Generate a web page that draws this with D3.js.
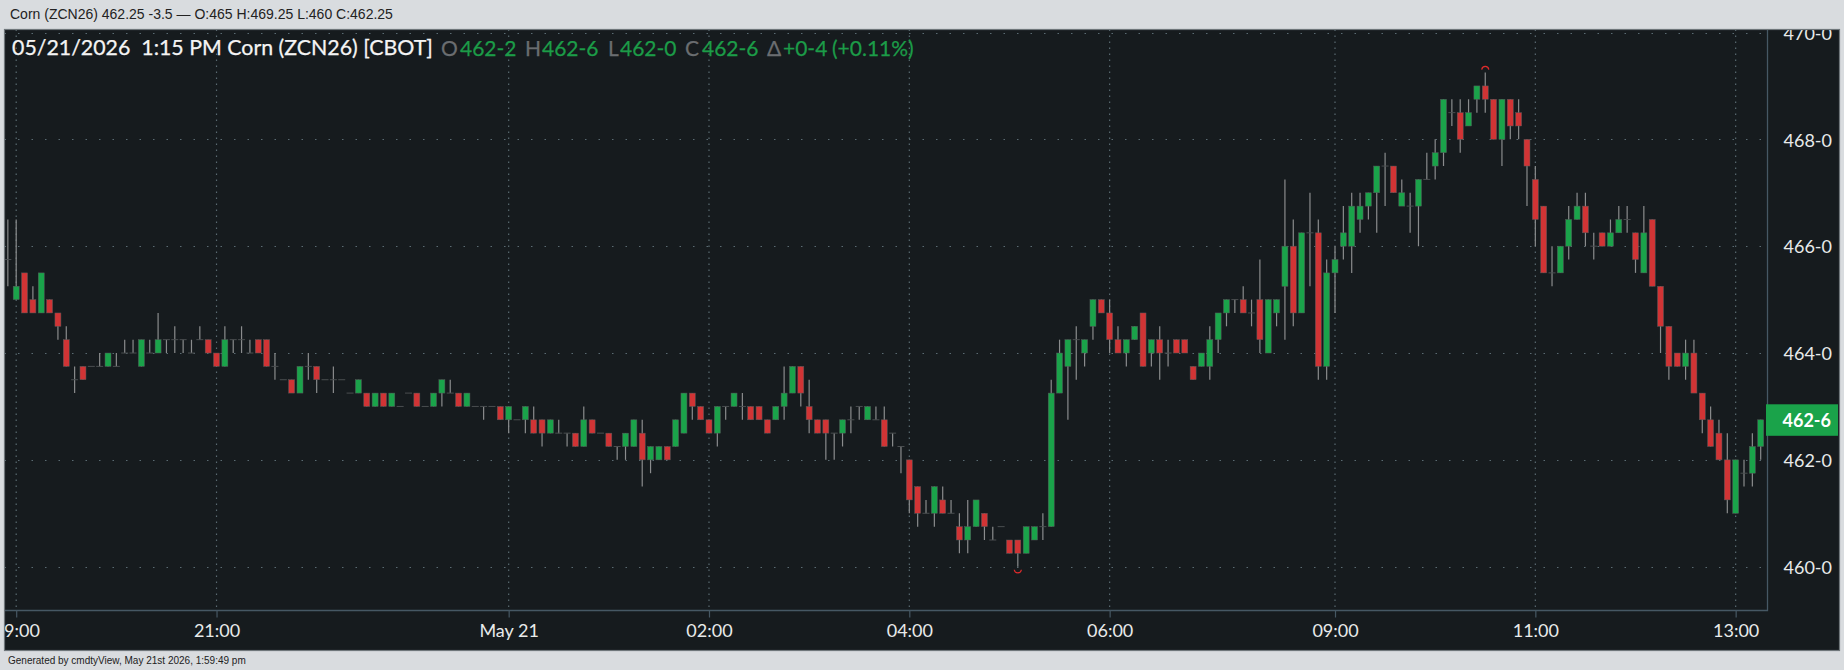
<!DOCTYPE html>
<html>
<head>
<meta charset="utf-8">
<title>Corn (ZCN26)</title>
<script src="https://cdn.jsdelivr.net/npm/d3@7"></script>
<style>
  html, body { margin: 0; padding: 0; background: #d9dcdf; overflow: hidden; }
  svg { display: block; }
</style>
</head>
<body>
<svg id="chart" width="1844" height="670"></svg>
<script>
// 5 minute bars, 18:55 to 13:15
const opens = [
  465.75,465,465.5,465,464.75,465,464.75,464.25,463.5,463.75,
  463.75,463.75,463.75,463.75,464,464,463.75,464,464,464.25,
  464.25,464.25,464,464.25,464.25,464,463.75,464.25,464.25,464,
  464.25,464.25,463.75,463.5,463.5,463.25,463.75,463.75,463.5,463.5,
  463.5,463.25,463.25,463.25,463,463.25,463,463,463.25,463.25,
  463,463,463.25,463.25,463.25,463,463,463,463,463,
  462.75,462.75,462.75,462.75,462.75,462.5,462.5,462.5,462.5,462.25,
  462.75,462.5,462.5,462.25,462.25,462.25,462.5,462,462,462.25,
  462.25,462.5,463.25,463,462.75,462.5,463,463,463,463,
  463,462.75,462.75,463,463.25,463.75,463,462.75,462.75,462.5,
  462.5,462.75,463,462.75,462.75,462.75,462.5,462.25,462,461.5,
  461,461,461.25,461,460.75,460.5,460.75,461,460.5,460.75,
  460.5,460.5,460.25,460.5,460.75,460.75,463.25,463.75,464.25,464,
  464.5,465,464.75,464.25,464,464.25,464.75,464,464.25,464,
  464.25,464.25,463.75,463.75,463.75,464.25,464.75,465,465,464.75,
  465,464,464.75,465.25,466,464.75,466.25,466.25,463.75,465.5,
  466,466,466.5,466.75,467,467.5,467.5,466.75,466.75,466.75,
  467.25,467.5,467.75,468.5,468.5,468.25,468.75,469,468.75,468,
  468.75,468.5,468,467.25,466.75,465.5,465.5,466,466.5,466.75,
  466,466.25,466,466.25,466.5,466.25,465.5,466.5,465.25,464.5,
  464,463.75,464,463.25,462.75,462.5,462,461,461.75,461.75,462.25
];
const highs = [
  466.5,466.5,465.5,465.25,465.5,465,464.75,464.5,463.75,463.75,
  463.75,464,464,464,464.25,464.25,464.25,464.25,464.75,464.25,
  464.5,464.25,464.25,464.5,464.25,464,464.5,464.25,464.5,464.25,
  464.25,464.25,464,463.5,463.5,463.75,464,463.75,463.5,463.75,
  463.5,463.25,463.5,463.25,463.25,463.25,463.25,463,463.25,463.25,
  463,463.25,463.5,463.5,463.25,463.25,463,463,463,463,
  463,462.75,463,463,462.75,462.75,462.75,462.5,462.5,463,
  462.75,462.5,462.5,462.25,462.5,462.75,462.75,462.25,462.25,462.25,
  462.75,463.25,463.25,463,462.75,463,463,463.25,463.25,463,
  463,462.75,463,463.75,463.75,463.75,463.5,462.75,462.75,462.5,
  462.75,463,463,463,463,463,462.5,462.25,462,461.5,
  461.25,461.5,461.5,461.25,461,461.25,461.25,461,460.75,460.75,
  460.5,460.5,460.75,460.75,461,463.5,464.25,464.25,464.5,464.25,
  465,465,465,464.5,464.25,464.5,464.75,464.25,464.5,464.25,
  464.25,464.25,463.75,464,464.5,464.75,465,465,465.25,465,
  465.75,465,465,467.25,466.5,466.25,467,466.5,465.75,466,
  466.75,467,467,467,467.5,467.75,467.5,467.25,467,467.25,
  467.75,468,468.75,468.75,468.75,468.75,469,469.25,468.75,468.75,
  468.75,468.75,468,467.5,466.75,466,466,466.75,467,467,
  466.25,466.25,466.5,466.75,466.75,466.25,466.75,466.5,465.25,464.5,
  464,464.25,464.25,463.25,463,462.75,462.5,462,462,462.5,462.75
];
const lows = [
  465.25,465,464.75,464.75,464.75,464.75,464.25,463.75,463.25,463.5,
  463.75,463.75,463.75,463.75,464,464,463.75,464,464,464,
  464,464,464,464.25,464,463.75,463.75,464,464,464,
  464,463.75,463.5,463.5,463.25,463.25,463.5,463.25,463.5,463.25,
  463.5,463.25,463.25,463,463,463,463,463,463.25,463,
  463,463,463,463.25,463,463,463,462.75,463,462.75,
  462.5,462.75,462.5,462.5,462.25,462.5,462.5,462.25,462.25,462.25,
  462.5,462.5,462.25,462,462,462.25,461.5,461.75,462,462,
  462.25,462.5,462.75,462.75,462.5,462.25,462.75,463,462.75,462.75,
  462.75,462.5,462.75,462.75,463.25,463,462.5,462.5,462,462,
  462.25,462.5,462.75,462.75,462.75,462.25,462.25,461.75,461,460.75,
  461,460.75,461,461,460.25,460.25,460.75,460.5,460.5,460.75,
  460.25,460,460.25,460.5,460.5,460.75,463.25,462.75,463.5,463.75,
  464.25,464.75,464,464,463.75,464.25,463.75,463.75,463.5,463.75,
  464,464,463.5,463.75,463.5,464,464.5,464.75,464.75,464.5,
  464,464,464.5,464.25,464.5,464.75,465.25,463.5,463.5,464.75,
  465.75,465.5,466.25,466.5,466.25,466.75,467,466.75,466.25,466,
  467.25,467.25,467.5,468.25,467.75,468.25,468.5,468.5,468,467.5,
  468,468,466.75,466,465.5,465.25,465.5,465.75,466.5,466,
  465.75,466,466,466.25,466.25,465.5,465.5,465.25,464,463.5,
  463.75,463.5,463.25,462.5,462.25,462,461,461,461.5,461.5,462
];
const closes = [
  465.75,465.25,464.75,464.75,465.5,464.75,464.5,463.75,463.5,463.5,
  463.75,463.75,464,463.75,464,464,464.25,464,464.25,464.25,
  464.25,464.25,464,464.25,464,463.75,464.25,464.25,464.25,464,
  464,463.75,463.75,463.5,463.25,463.75,463.75,463.5,463.5,463.5,
  463.5,463.25,463.5,463,463.25,463,463.25,463,463.25,463,
  463,463.25,463.5,463.25,463,463.25,463,463,463,462.75,
  463,462.75,463,462.5,462.5,462.75,462.5,462.5,462.25,462.75,
  462.5,462.5,462.25,462.25,462.5,462.75,462,462.25,462.25,462,
  462.75,463.25,463,462.75,462.5,463,463,463.25,463,462.75,
  462.75,462.5,463,463.25,463.75,463.25,462.75,462.5,462.5,462.5,
  462.75,462.75,463,463,462.75,462.25,462.5,462.25,461.25,461,
  461,461.5,461,461,460.5,460.75,461.25,460.75,460.5,460.75,
  460.25,460.25,460.75,460.75,460.75,463.25,464,464.25,464.25,464.25,
  465,464.75,464.25,464,464.25,464.5,463.75,464.25,464,464,
  464,464,463.5,464,464.25,464.75,465,465,464.75,464.75,
  464.25,465,465,466,464.75,466.25,466.25,463.75,465.5,465.75,
  466.25,466.75,466.75,467,467.5,467.5,467,467,466.75,467.25,
  467.25,467.75,468.75,468.5,468,468.5,469,468.75,468,468.75,
  468.25,468.25,467.5,466.5,465.5,465.5,466,466.5,466.75,466.25,
  466,466,466.25,466.5,466.5,465.75,466.25,465.25,464.5,463.75,
  463.75,464,463.25,462.75,462.25,462,461.25,462,461.75,462.25,462.75
];

const xTickBars = [1, 25, 60, 84, 108, 132, 159, 183, 207];
const xTickLabels = ['19:00', '21:00', 'May 21', '02:00', '04:00', '06:00', '09:00', '11:00', '13:00'];
const yTicks = [460, 462, 464, 466, 468, 470];

const headerText = 'Corn (ZCN26) 462.25 -3.5 — O:465 H:469.25 L:460 C:462.25';
const footerText = 'Generated by cmdtyView, May 21st 2026, 1:59:49 pm';
const titleText = '05/21/2026\u00a0\u00a01:15 PM\u00a0Corn (ZCN26) [CBOT]';
const legendParts = [
  ['O', '#6a6d70', 441], ['462-2', '#1c9c48', 460],
  ['H', '#6a6d70', 525], ['462-6', '#1c9c48', 542],
  ['L', '#6a6d70', 608], ['462-0', '#1c9c48', 620],
  ['C', '#6a6d70', 685], ['462-6', '#1c9c48', 702],
  ['Δ', '#6a6d70', 767], ['+0-4', '#1c9c48', 783],
  ['(+0.11%)', '#1c9c48', 832]
];

const UP = '#1aa34a', DOWN = '#d13435', WICK = '#8a8c8d', DOJI = '#4a4e50', GRID = '#5a6b72', FRAME = '#465864';
const chart = { left: 4.5, top: 29.5, right: 1839.5, bottom: 650.5 };
const plotRight = 1767.5, plotBottom = 610.5;

const svg = d3.select('#chart');
const x = d3.scaleLinear().domain([0, 210]).range([7.85, 1760.7]);
const y = d3.scaleLinear().domain([460, 470]).range([566.7, 32.5]);
const bars = d3.range(opens.length);

svg.append('defs').append('clipPath').attr('id', 'clip-chart').append('rect')
  .attr('x', chart.left).attr('y', chart.top)
  .attr('width', chart.right - chart.left).attr('height', chart.bottom - chart.top);

// page chrome
svg.append('rect').attr('width', 1844).attr('height', 670).attr('fill', '#d9dcdf');
svg.append('text').text(headerText)
  .attr('x', 10).attr('y', 13.5).attr('dominant-baseline', 'central')
  .style('font', '14px "Liberation Sans", Arial, sans-serif').attr('fill', '#222');
svg.append('text').text(footerText)
  .attr('x', 8).attr('y', 660).attr('dominant-baseline', 'central')
  .style('font', '10px "Liberation Sans", Arial, sans-serif').attr('fill', '#222');

const g = svg.append('g').attr('clip-path', 'url(#clip-chart)');
g.append('rect')
  .attr('x', chart.left).attr('y', chart.top)
  .attr('width', chart.right - chart.left).attr('height', chart.bottom - chart.top)
  .attr('fill', '#161b1e');

// grid
g.append('g').selectAll('line').data(yTicks).join('line')
  .attr('x1', chart.left).attr('x2', plotRight - 4)
  .attr('y1', d => Math.round(y(d)) + 0.5).attr('y2', d => Math.round(y(d)) + 0.5)
  .attr('stroke', GRID).attr('stroke-width', 1.2).attr('stroke-dasharray', '1.5 12');
g.append('g').selectAll('line').data(xTickBars).join('line')
  .attr('x1', d => x(d)).attr('x2', d => x(d))
  .attr('y1', chart.top).attr('y2', plotBottom)
  .attr('stroke', GRID).attr('stroke-width', 1.2).attr('stroke-dasharray', '1.5 4.5');

// plot frame
g.append('path')
  .attr('d', `M${chart.left},${plotBottom}H${plotRight}V${chart.top}`)
  .attr('fill', 'none').attr('stroke', FRAME).attr('stroke-width', 1.3);

// axes
const xAxis = d3.axisBottom(x).tickValues(xTickBars).tickFormat((d, i) => xTickLabels[i]).tickSize(7).tickPadding(7);
const xAxisG = g.append('g').attr('transform', `translate(0,${plotBottom})`).call(xAxis);
xAxisG.select('.domain').remove();
xAxisG.selectAll('line').attr('stroke', FRAME).attr('stroke-width', 1.2);
xAxisG.selectAll('text').attr('fill', '#e8eaea').style('font', '18px Lato, sans-serif');

const yAxis = d3.axisRight(y).tickValues(yTicks).tickFormat(d => d + '-0').tickSize(0).tickPadding(16);
const yAxisG = g.append('g').attr('transform', `translate(${plotRight},1)`).call(yAxis);
yAxisG.select('.domain').remove();
yAxisG.selectAll('text').attr('fill', '#e8eaea').style('font', '18px Lato, sans-serif');

// candles
const candles = g.append('g').selectAll('g').data(bars).join('g');
candles.append('line')
  .attr('x1', i => x(i)).attr('x2', i => x(i))
  .attr('y1', i => y(highs[i])).attr('y2', i => y(lows[i]))
  .attr('stroke', WICK).attr('stroke-width', 1.2);
candles.filter(i => opens[i] === closes[i]).append('line')
  .attr('x1', i => x(i) - 3.5).attr('x2', i => x(i) + 3.5)
  .attr('y1', i => y(opens[i])).attr('y2', i => y(opens[i]))
  .attr('stroke', DOJI).attr('stroke-width', 1);
candles.filter(i => opens[i] !== closes[i]).append('rect')
  .attr('x', i => x(i) - 3).attr('width', 6)
  .attr('y', i => y(Math.max(opens[i], closes[i])))
  .attr('height', i => Math.abs(y(opens[i]) - y(closes[i])))
  .attr('fill', i => closes[i] > opens[i] ? UP : DOWN)
  .attr('stroke', '#55595a').attr('stroke-width', 0.5);

// session high and low markers
const hiBar = d3.greatestIndex(highs), loBar = d3.leastIndex(lows);
const marker = d3.arc().innerRadius(3).outerRadius(4.2);
g.append('path')
  .attr('d', marker({ startAngle: -Math.PI / 2.2, endAngle: Math.PI / 2.2 }))
  .attr('transform', `translate(${x(hiBar)},${y(highs[hiBar]) - 2.5})`)
  .attr('fill', '#e02b2b');
g.append('path')
  .attr('d', marker({ startAngle: Math.PI - Math.PI / 2.2, endAngle: Math.PI + Math.PI / 2.2 }))
  .attr('transform', `translate(${x(loBar)},${y(lows[loBar]) + 2.5})`)
  .attr('fill', '#e02b2b');

// last price tag
const lastY = y(closes[closes.length - 1]);
g.append('rect').attr('x', 1766).attr('y', lastY - 15.5).attr('width', 72).attr('height', 31.5).attr('fill', UP);
g.append('text').text('462-6')
  .attr('x', 1831).attr('y', lastY).attr('text-anchor', 'end').attr('dominant-baseline', 'central')
  .style('font', 'bold 18px Lato, sans-serif').attr('fill', '#fff');

// title line
g.append('text').text(titleText)
  .attr('x', 12).attr('y', 47).attr('dominant-baseline', 'central')
  .style('font', '21.35px Lato, sans-serif').attr('fill', '#f4f4f4')
  .attr('stroke', '#f4f4f4').attr('stroke-width', 0.25);
g.append('g').selectAll('text').data(legendParts).join('text')
  .text(d => d[0])
  .attr('x', d => d[2]).attr('y', 47).attr('dominant-baseline', 'central')
  .style('font', '21px Lato, sans-serif').attr('fill', d => d[1])
  .attr('stroke', d => d[1]).attr('stroke-width', 0.25);

// chart border
svg.append('rect')
  .attr('x', chart.left).attr('y', chart.top)
  .attr('width', chart.right - chart.left).attr('height', chart.bottom - chart.top)
  .attr('fill', 'none').attr('stroke', '#6f767a').attr('stroke-width', 1.2);
</script>
</body>
</html>
